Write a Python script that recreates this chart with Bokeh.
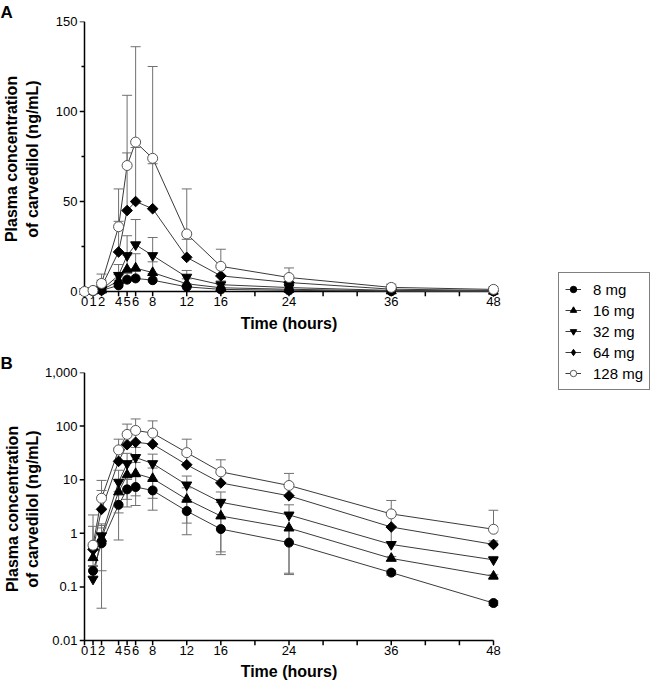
import math
from bokeh.plotting import figure
from bokeh.models import FixedTicker, Range1d, Legend, LegendItem
from bokeh.layouts import row, column
from bokeh.embed import file_html
from bokeh.resources import INLINE

# ---------------- data ----------------
hours = [0, 1, 2, 4, 5, 6, 8, 12, 16, 24, 36, 48]
doses = ["8 mg", "16 mg", "32 mg", "64 mg", "128 mg"]

mean_8 = [0, 0.2, 0.65, 3.4, 6.6, 7.3, 6.3, 2.6, 1.2, 0.67, 0.185, 0.05]
mean_16 = [0, 0.35, 0.8, 5.9, 12.3, 13.0, 10.5, 4.3, 2.1, 1.25, 0.34, 0.158]
mean_32 = [0, 0.14, 0.9, 9.0, 20.0, 26.0, 20.0, 8.0, 3.8, 2.2, 0.62, 0.32]
mean_64 = [0, 0.5, 2.8, 22.0, 45.0, 50.0, 46.0, 19.0, 8.7, 5.0, 1.31, 0.62]
mean_128 = [0, 0.6, 4.5, 36.0, 70.0, 83.0, 74.0, 32.0, 14.0, 7.8, 2.3, 1.19]

sd_8 = [0, 0.05, 0.61, 2.65, 3.5, 4.0, 3.6, 1.66, 0.8, 0.5, 0.02, 0.005]
sd_16 = [0, 0.2, 0.6, 3.5, 8.0, 8.0, 6.0, 2.75, 1.65, 1.07, 0.03, 0.01]
sd_32 = [0, 0.1, 0.6, 6.0, 11.0, 14.0, 10.0, 3.7, 2.1, 1.2, 0.7, 0.05]
sd_64 = [0, 0.85, 3.5, 17.0, 32.0, 30.0, 25.0, 10.0, 5.0, 3.0, 1.0, 0.1]
sd_128 = [0, 1.6, 5.2, 21.0, 39.0, 53.0, 51.0, 25.0, 9.5, 5.3, 1.8, 1.5]

x_ticks = [0, 1, 2, 4, 5, 6, 8, 12, 16, 20, 24, 28, 32, 36, 40, 44, 48]
x_unlabeled = [20, 28, 32, 40, 44]
yA_ticks = [0, 50, 100, 150]
yA_minor = [25, 75, 125]
yB_ticks = [0.01, 0.1, 1, 10, 100, 1000]
yB_labels = ["0.01", "0.1", "1", "10", "100", "1,000"]

means = [mean_8, mean_16, mean_32, mean_64, mean_128]
sds = [sd_8, sd_16, sd_32, sd_64, sd_128]
lower_in_log = [True, True, False, False, False]

Y_TITLE = "Plasma concentration\nof carvedilol (ng/mL)"
X_TITLE = "Time (hours)"

# ---------------- style ----------------
FONT = "Liberation Sans"
LINE_C = "#3a3a3a"
EB_C = "#707070"
AX_W = 1.5
styles = [
    dict(marker="circle", size=9, angle=0, fill_color="black", line_color="black",
         leg_marker="circle", leg_size=8.5),
    dict(marker="triangle", size=10, angle=0, fill_color="black", line_color="black",
         leg_marker="triangle", leg_size=9.5),
    dict(marker="inverted_triangle", size=10, angle=0, fill_color="black", line_color="black",
         leg_marker="inverted_triangle", leg_size=9.5),
    dict(marker="square", size=7.5, angle=math.pi / 4, fill_color="black", line_color="black",
         leg_marker="diamond", leg_size=12),
    dict(marker="circle", size=10, angle=0, fill_color="white", line_color="#555555",
         leg_marker="circle", leg_size=9.5),
]

XPAD = 5 / (409 / 48)          # 5 px of room left/right of the axes
PAD_A = 5 / (272 / 150)        # 5 px below y=0 in panel A
PADF_B = 10 ** (5 / 53.6)      # 5 px below 0.01 in panel B


def style_axes(p, ylab_standoff):
    for ax in (p.xaxis[0], p.yaxis[0]):
        ax.axis_line_color = None
        ax.major_tick_line_color = None
        ax.minor_tick_line_color = None
        ax.major_tick_out = 0
        ax.major_tick_in = 0
        ax.minor_tick_out = 0
        ax.minor_tick_in = 0
        ax.major_label_text_font = FONT
        ax.major_label_text_font_size = "13px"
        ax.major_label_text_color = "black"
        ax.axis_label_text_font = FONT
        ax.axis_label_text_font_size = "16px"
        ax.axis_label_text_font_style = "bold"
        ax.axis_label_text_color = "black"
    p.xaxis[0].major_label_standoff = 0
    p.yaxis[0].major_label_standoff = 2
    p.xaxis[0].axis_label = X_TITLE
    p.xaxis[0].axis_label_standoff = 6
    p.yaxis[0].axis_label = Y_TITLE
    p.yaxis[0].axis_label_standoff = ylab_standoff
    p.xgrid.visible = False
    p.ygrid.visible = False
    p.outline_line_color = None
    p.xaxis[0].ticker = FixedTicker(ticks=x_ticks, minor_ticks=[])
    p.xaxis[0].major_label_overrides = {t: "" for t in x_unlabeled}


def draw_axes(p, y0, ybottom, yticks, yminor, ytop):
    # axis lines and outward ticks, drawn at the data origin
    p.segment(x0=[0, 0], y0=[y0, y0], x1=[48, 0], y1=[y0, ytop],
              line_color="black", line_width=AX_W)
    p.segment(x0=x_ticks, y0=[y0] * len(x_ticks), x1=x_ticks,
              y1=[ybottom] * len(x_ticks), line_color="black", line_width=AX_W)
    p.segment(x0=[-XPAD] * len(yticks), y0=yticks, x1=[0] * len(yticks), y1=yticks,
              line_color="black", line_width=AX_W)
    if yminor:
        p.segment(x0=[-XPAD * 0.6] * len(yminor), y0=yminor, x1=[0] * len(yminor),
                  y1=yminor, line_color="black", line_width=AX_W)


def draw_series(p, log):
    for m in means:
        xs = [h for h, v in zip(hours, m) if (v > 0 or not log)]
        ys = [v for v in m if (v > 0 or not log)]
        p.line(xs, ys, line_color=LINE_C, line_width=1)
    for m, s, low in zip(means, sds, lower_in_log):
        x0, y0, y1 = [], [], []
        for h, v, e in zip(hours, m, s):
            if e <= 0 or (log and v <= 0):
                continue
            x0.append(h); y0.append(v); y1.append(v + e)
            if log and low and v - e > 0:
                x0.append(h); y0.append(v); y1.append(v - e)
        p.segment(x0=x0, y0=y0, x1=x0, y1=y1, line_color=EB_C, line_width=1)
        p.scatter(x0, y1, marker="dash", size=10, line_color=EB_C, line_width=1)
    for m, st in zip(means, styles):
        xs = [h for h, v in zip(hours, m) if (v > 0 or not log)]
        ys = [v for v in m if (v > 0 or not log)]
        p.scatter(xs, ys, marker=st["marker"], size=st["size"], angle=st["angle"],
                  fill_color=st["fill_color"], line_color=st["line_color"], line_width=1)


def panel_letter(p, letter):
    p.title.text = letter
    p.title.align = "left"
    p.title.offset = -79
    p.title.standoff = 0
    p.title.text_font = FONT
    p.title.text_font_size = "17px"
    p.title.text_font_style = "bold"
    p.title.text_color = "black"


# ---------------- panel A ----------------
pA = figure(width=503, height=345, min_border_left=79, min_border_right=5,
            min_border_top=19, min_border_bottom=49,
            x_range=Range1d(-XPAD, 48 + XPAD), y_range=Range1d(-PAD_A, 150),
            toolbar_location=None, output_backend="svg")
style_axes(pA, 12)
pA.yaxis[0].ticker = FixedTicker(ticks=yA_ticks, minor_ticks=[])
panel_letter(pA, "A")
draw_axes(pA, 0, -PAD_A, yA_ticks, yA_minor, 150)
draw_series(pA, False)

# ---------------- panel B ----------------
pB = figure(width=503, height=340, min_border_left=79, min_border_right=5,
            min_border_top=27, min_border_bottom=40,
            x_range=Range1d(-XPAD, 48 + XPAD), y_range=Range1d(0.01 / PADF_B, 1000),
            y_axis_type="log", toolbar_location=None, output_backend="svg")
style_axes(pB, 1)
pB.yaxis[0].ticker = FixedTicker(ticks=yB_ticks, minor_ticks=[])
pB.yaxis[0].major_label_overrides = {t: l for t, l in zip(yB_ticks, yB_labels)}
pB.xaxis[0].axis_label_standoff = 5
panel_letter(pB, "B")
draw_axes(pB, 0.01, 0.01 / PADF_B, yB_ticks, None, 1000)
draw_series(pB, True)

# ---------------- legend ----------------
pL = figure(width=150, height=685, x_range=Range1d(0, 1), y_range=Range1d(0, 1),
            x_axis_location=None, y_axis_location=None, min_border=0,
            toolbar_location=None, output_backend="svg")
pL.outline_line_color = None
pL.xgrid.visible = False
pL.ygrid.visible = False
items = []
for name, st in zip(doses, styles):
    rl = pL.line(x=[5, 6], y=[5, 6], line_color=LINE_C, line_width=1)
    rs = pL.scatter(x=[5], y=[5], marker=st["leg_marker"], size=st["leg_size"],
                    fill_color=st["fill_color"], line_color=st["line_color"], line_width=1)
    items.append(LegendItem(label=name, renderers=[rl, rs]))
leg = Legend(items=items, location=(55, 295), border_line_color="black",
             border_line_width=1, background_fill_color="white", background_fill_alpha=1,
             label_text_font=FONT, label_text_font_size="15px", label_text_color="black",
             glyph_width=16, glyph_height=20, label_height=20, label_standoff=12,
             spacing=1, padding=6, margin=0)
pL.add_layout(leg)

layout = row(column(pA, pB), pL)
open("out.html", "w").write(file_html(layout, INLINE))
